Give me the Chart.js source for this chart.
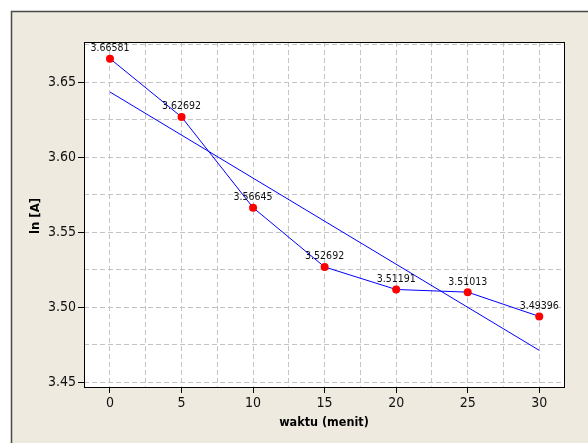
<!DOCTYPE html>
<html lang="id">
<head>
<meta charset="utf-8">
<title>ln [A] vs waktu</title>
<script src="https://cdn.jsdelivr.net/npm/chart.js@4.4.0/dist/chart.umd.min.js"></script>
<style>
  html, body { margin: 0; padding: 0; background: #fff; }
  #holder { width: 588px; height: 443px; }
</style>
</head>
<body>
<div id="holder"><canvas id="chart" width="588" height="443"></canvas></div>
<script>
  // data
  var waktu = [0, 5, 10, 15, 20, 25, 30];
  var lnA = [3.66581, 3.62692, 3.56645, 3.52692, 3.51191, 3.51013, 3.49396];
  // fitted straight line, end points
  var fitX = [0, 30];
  var fitY = [3.64355, 3.47134];
  // tick labels
  var xTicks = [0, 5, 10, 15, 20, 25, 30];
  var yTicks = [3.45, 3.50, 3.55, 3.60, 3.65];

  var narrow = "'Liberation Sans Narrow', 'DejaVu Sans Condensed', sans-serif";
  var beige = '#eeeae0';
  var dash = [5, 3];

  // major ticks + one minor grid line between each
  function withMinor(list, half, max) {
    var out = [];
    list.forEach(function (v) {
      out.push({ value: v });
      if (v + half <= max) out.push({ value: v + half });
    });
    return out;
  }

  var framePlugin = {
    id: 'frame',
    beforeDraw: function (chart) {
      var c = chart.ctx, a = chart.chartArea;
      c.save();
      c.fillStyle = '#fff';
      c.fillRect(0, 0, chart.width, chart.height);
      c.fillStyle = beige;
      c.fillRect(11, 11, chart.width - 11, chart.height - 11);
      c.strokeStyle = '#4a4a4a';
      c.lineWidth = 1.5;
      c.beginPath();
      c.moveTo(11.5, chart.height);
      c.lineTo(11.5, 11.5);
      c.lineTo(chart.width, 11.5);
      c.stroke();
      c.fillStyle = '#fff';
      c.fillRect(a.left, a.top, a.right - a.left, a.bottom - a.top);
      c.restore();
    },
    afterDatasetsDraw: function (chart) {
      var c = chart.ctx;
      var meta = chart.getDatasetMeta(1);
      c.save();
      c.font = '10.5px ' + narrow;
      c.fillStyle = '#111';
      c.textAlign = 'center';
      c.textBaseline = 'alphabetic';
      meta.data.forEach(function (pt, i) {
        c.fillText(lnA[i].toFixed(5), pt.x, pt.y - 7.5);
      });
      c.restore();
    },
    afterDraw: function (chart) {
      var c = chart.ctx, a = chart.chartArea;
      c.save();
      c.strokeStyle = '#000';
      c.lineWidth = 1;
      c.strokeRect(a.left + 0.5, a.top + 0.5, a.right - a.left, a.bottom - a.top);
      c.fillStyle = '#000';
      c.font = 'bold 12.5px ' + narrow;
      c.textAlign = 'center';
      c.textBaseline = 'middle';
      c.fillText('waktu (menit)', (a.left + a.right) / 2, 423);
      c.font = 'bold 13px ' + narrow;
      c.translate(35.5, 216);
      c.rotate(-Math.PI / 2);
      c.fillText('ln [A]', 0, 0);
      c.restore();
    }
  };

  var config = {
    type: 'scatter',
    data: {
      datasets: [{
        type: 'line',
        data: fitX.map(function (x, i) { return { x: x, y: fitY[i] }; }),
        borderColor: '#0000ff',
        borderWidth: 1,
        pointRadius: 0,
        fill: false
      }, {
        type: 'line',
        data: waktu.map(function (x, i) { return { x: x, y: lnA[i] }; }),
        borderColor: '#0000ff',
        borderWidth: 1,
        tension: 0,
        fill: false,
        pointRadius: 4,
        pointBackgroundColor: '#ff0000',
        pointBorderColor: '#ff0000',
        pointBorderWidth: 0
      }]
    },
    options: {
      responsive: false,
      animation: false,
      events: [],
      layout: { padding: { top: 42, right: 24, left: 0, bottom: 0 } },
      plugins: {
        legend: { display: false },
        tooltip: { enabled: false }
      },
      scales: {
        x: {
          type: 'linear',
          min: -1.817,
          max: 31.73,
          afterBuildTicks: function (scale) {
            scale.ticks = withMinor(xTicks, 2.5, scale.max);
          },
          afterFit: function (scale) { scale.height = 56; },
          ticks: {
            autoSkip: false,
            maxRotation: 0,
            padding: 2,
            color: '#111',
            font: { family: narrow, size: 14 },
            callback: function (v, i) { return i % 2 === 0 ? String(v) : ''; }
          },
          grid: {
            color: '#c4c4c4',
            tickLength: 6,
            tickBorderDash: [],
            tickColor: function (ctx) { return ctx.index % 2 === 0 ? '#000' : 'rgba(0,0,0,0)'; }
          },
          border: { display: false, dash: dash }
        },
        y: {
          type: 'linear',
          min: 3.4469,
          max: 3.6769,
          afterBuildTicks: function (scale) {
            scale.ticks = withMinor(yTicks, 0.025, scale.max);
          },
          afterFit: function (scale) { scale.width = 84; },
          ticks: {
            autoSkip: false,
            padding: 2,
            color: '#111',
            font: { family: narrow, size: 14 },
            callback: function (v, i) { return i % 2 === 0 ? v.toFixed(2) : ''; }
          },
          grid: {
            color: '#c4c4c4',
            tickLength: 6,
            tickBorderDash: [],
            tickColor: function (ctx) { return ctx.index % 2 === 0 ? '#000' : 'rgba(0,0,0,0)'; }
          },
          border: { display: false, dash: dash }
        }
      }
    },
    plugins: [framePlugin]
  };

  window.myChart = new Chart(document.getElementById('chart').getContext('2d'), config);
</script>
</body>
</html>
